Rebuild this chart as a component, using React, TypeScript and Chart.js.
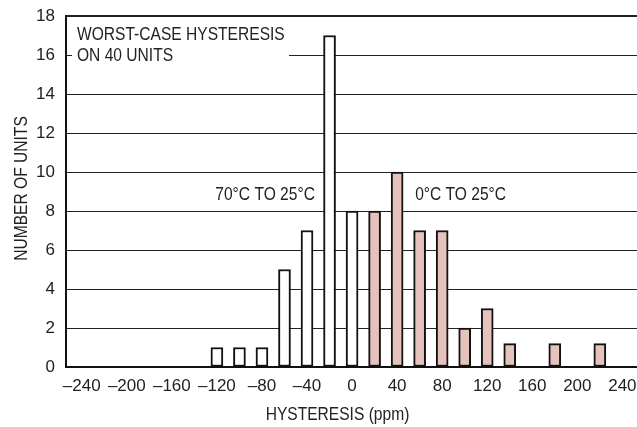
import React, { useEffect, useRef } from 'react';
import { Chart, registerables } from 'chart.js';

Chart.register(...registerables);

const FONT = '"Liberation Sans", Arial, sans-serif';
const INK = '#222222';
const PINK = '#e5c2bc';
const NARROW = 0.82; // horizontal squeeze to imitate a narrow Helvetica

// 70°C to 25°C histogram (white bars)
const coolingBins = [-120, -100, -80, -60, -40, -20, 0];
const coolingCounts = [1, 1, 1, 5, 7, 17, 8];
// 0°C to 25°C histogram (shaded bars)
const heatingBins = [20, 40, 60, 80, 100, 120, 140, 180, 220];
const heatingCounts = [8, 10, 7, 7, 2, 3, 1.2, 1.2, 1.2];

const xTickValues = [-240, -200, -160, -120, -80, -40, 0, 40, 80, 120, 160, 200, 240];
const yTickValues = [0, 2, 4, 6, 8, 10, 12, 14, 16, 18];
const xRange = [-254, 253];
const seriesNames = ['70°C TO 25°C', '0°C TO 25°C'];
const noteLines = ['WORST-CASE HYSTERESIS', 'ON 40 UNITS'];
const xTitle = 'HYSTERESIS (ppm)';
const yTitle = 'NUMBER OF UNITS';

const fmt = (v: number) => (v < 0 ? '\u2013' + Math.abs(v) : String(v));

function narrowText(ctx: any, text: string, x: number, y: number, align: string, rot = 0) {
  ctx.save();
  ctx.translate(x, y);
  if (rot) ctx.rotate(rot);
  ctx.scale(NARROW, 1);
  ctx.textAlign = align;
  ctx.textBaseline = 'alphabetic';
  ctx.fillText(text, 0, 0);
  ctx.restore();
}

const notesPlugin = {
  id: 'notes',
  beforeDatasetsDraw(chart: any) {
    const { ctx, chartArea } = chart;
    const xs = chart.scales.x;
    const ys = chart.scales.y;
    ctx.save();
    ctx.fillStyle = '#ffffff';
    ctx.fillRect(chartArea.left + 6, chartArea.top + 3, 217, 46);
    ctx.fillStyle = INK;
    ctx.font = `19px ${FONT}`;
    narrowText(ctx, noteLines[0], chartArea.left + 11, chartArea.top + 24, 'left');
    narrowText(ctx, noteLines[1], chartArea.left + 11, chartArea.top + 45, 'left');
    const yMid = ys.getPixelForValue(9) + 8.5;
    narrowText(ctx, seriesNames[0], xs.getPixelForValue(-33), yMid, 'right');
    narrowText(ctx, seriesNames[1], xs.getPixelForValue(56), yMid, 'left');
    // axis titles
    narrowText(ctx, xTitle, (chartArea.left + chartArea.right) / 2 - 14, chart.height - 7, 'center');
    narrowText(ctx, yTitle, 26.5, (chartArea.top + chartArea.bottom) / 2 - 3, 'center', -Math.PI / 2);
    ctx.restore();
  },
};

export default function App() {
  const ref = useRef<HTMLCanvasElement>(null);

  useEffect(() => {
    if (!ref.current) return;
    const chart = new Chart(ref.current, {
      type: 'bar',
      data: {
        datasets: [
          {
            label: seriesNames[0],
            data: coolingBins.map((x, i) => ({ x, y: coolingCounts[i] })),
            backgroundColor: '#ffffff',
            borderColor: '#111111',
            borderWidth: 2,
            borderSkipped: false,
            barThickness: 12,
            grouped: false,
          } as any,
          {
            label: seriesNames[1],
            data: heatingBins.map((x, i) => ({ x, y: heatingCounts[i] })),
            backgroundColor: PINK,
            borderColor: '#111111',
            borderWidth: 2,
            borderSkipped: false,
            barThickness: 12,
            grouped: false,
          } as any,
        ],
      },
      options: {
        animation: false,
        responsive: true,
        maintainAspectRatio: false,
        layout: { padding: { top: 16, right: 0, bottom: 0, left: 0 } },
        plugins: {
          legend: { display: false },
          tooltip: { enabled: false },
        },
        scales: {
          x: {
            type: 'linear',
            min: xRange[0],
            max: xRange[1],
            offset: false,
            grid: { display: false, drawTicks: false },
            border: { display: true, color: '#111111', width: 2 },
            afterBuildTicks: (scale: any) => {
              scale.ticks = xTickValues.map((value) => ({ value }));
            },
            afterFit: (scale: any) => {
              scale.height = 60;
              scale.paddingLeft = 0;
              scale.paddingRight = 0;
            },
            ticks: {
              autoSkip: false,
              maxRotation: 0,
              padding: 9,
              color: INK,
              font: { family: FONT, size: 17 },
              callback: (v: any) => fmt(Number(v)),
            },
            title: { display: false, text: xTitle },
          },
          y: {
            type: 'linear',
            min: 0,
            max: 18,
            afterBuildTicks: (scale: any) => {
              scale.ticks = yTickValues.map((value) => ({ value }));
            },
            afterFit: (scale: any) => {
              scale.width = 66;
              scale.paddingTop = 0;
              scale.paddingBottom = 0;
            },
            grid: {
              drawTicks: false,
              color: INK,
              lineWidth: (c: any) => (c.tick && c.tick.value === 18 ? 2 : 1),
            },
            border: { display: true, color: '#111111', width: 2 },
            ticks: {
              padding: 11,
              color: INK,
              font: { family: FONT, size: 17 },
            },
            title: { display: false, text: yTitle },
          },
        },
      } as any,
      plugins: [notesPlugin],
    });
    return () => chart.destroy();
  }, []);

  return (
    <div style={{ position: 'fixed', left: 0, top: 0, width: 637, height: 427, background: '#fff' }}>
      <canvas ref={ref} />
    </div>
  );
}
